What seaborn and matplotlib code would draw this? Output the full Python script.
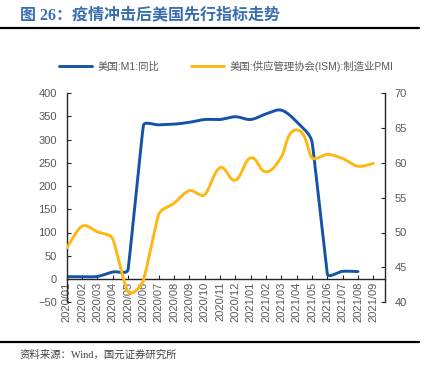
import numpy as np
import pandas as pd
import matplotlib
matplotlib.use("Agg")
import matplotlib.pyplot as plt
from matplotlib.lines import Line2D
import seaborn as sns

# ---------------- data ----------------
months = ["2020/01", "2020/02", "2020/03", "2020/04", "2020/05", "2020/06", "2020/07",
          "2020/08", "2020/09", "2020/10", "2020/11", "2020/12", "2021/01", "2021/02",
          "2021/03", "2021/04", "2021/05", "2021/06", "2021/07", "2021/08", "2021/09"]
m1_yoy = [5, 5, 5.5, 15, 20, 330, 331.5, 333, 337, 343, 343, 349, 343, 355, 363,
          338, 295, 11, 16.5, 16]
ism_pmi = [47.8, 50.9, 50.1, 49.1, 41.5, 43.1, 52.6, 54.2, 56.0, 55.4, 59.3, 57.5,
           60.7, 58.7, 60.8, 64.7, 60.7, 61.2, 60.6, 59.5, 59.9]
m1_label = "美国:M1:同比"
pmi_label = "美国:供应管理协会(ISM):制造业PMI"
left_ticks = [-50, 0, 50, 100, 150, 200, 250, 300, 350, 400]
right_ticks = [40, 45, 50, 55, 60, 65, 70]

BLUE = "#1553A8"
YELLOW = "#FDB813"
GRAY = "#595959"

sns.set_theme(style="white")
plt.rcParams['font.family'] = ['Liberation Sans', 'Noto Sans CJK SC', 'DejaVu Sans']


def smooth(ys, sx, sy, k=1/3, n=30):
    """Smoothed line (cubic Bezier through the points, tangents limited by the
    shorter neighbouring segment), computed in screen space."""
    xs = np.arange(len(ys), dtype=float)
    P = np.column_stack([xs * sx, np.asarray(ys, float) * sy])
    m = len(P)
    h_in, h_out = [], []
    for i in range(m):
        if i == 0:
            d = P[1] - P[0]
            h_in.append(np.zeros(2)); h_out.append(d / 3)
            continue
        if i == m - 1:
            d = P[i] - P[i - 1]
            h_in.append(d / 3); h_out.append(np.zeros(2))
            continue
        tvec = P[i + 1] - P[i - 1]
        tu = tvec / np.linalg.norm(tvec)
        dprev = np.linalg.norm(P[i] - P[i - 1])
        dnext = np.linalg.norm(P[i + 1] - P[i])
        L = min(dprev, dnext) * k
        h_in.append(tu * L); h_out.append(tu * L)
    u = np.linspace(0, 1, n)[:, None]
    out = []
    for i in range(m - 1):
        p1, p2 = P[i], P[i + 1]
        c1 = p1 + h_out[i]
        c2 = p2 - h_in[i + 1]
        B = ((1 - u) ** 3) * p1 + 3 * ((1 - u) ** 2) * u * c1 + 3 * (1 - u) * u ** 2 * c2 + u ** 3 * p2
        out.append(B if i == 0 else B[1:])
    B = np.vstack(out)
    return B[:, 0] / sx, B[:, 1] / sy


fig = plt.figure(figsize=(4.32, 3.70), dpi=100)
ax = fig.add_axes([66.7 / 432, 1 - 302.25 / 370, (385 - 66.7) / 432, (302.25 - 93) / 370])
ax2 = ax.twinx()

SX = 15.33
bx, by = smooth(m1_yoy, SX, 0.465)
yx, yy = smooth(ism_pmi, SX, 6.975)
df_b = pd.DataFrame({"x": bx, "y": by})
df_y = pd.DataFrame({"x": yx, "y": yy})

sns.lineplot(data=df_b, x="x", y="y", ax=ax, color=BLUE, linewidth=2.1,
             sort=False, estimator=None)
sns.lineplot(data=df_y, x="x", y="y", ax=ax2, color=YELLOW, linewidth=2.1,
             sort=False, estimator=None)

ax.set_xlim(0, 20.76)
ax.set_ylim(-50, 400)
ax2.set_ylim(40, 70)
ax.set_yticks(left_ticks)
ax2.set_yticks(right_ticks)
ax.set_xticks(range(len(months)))
ax.set_xticklabels(months)
ax.set_xlabel("")
ax.set_ylabel("")
ax2.set_ylabel("")

ax.spines['bottom'].set_position(('data', 0))
ax.spines['top'].set_visible(False)
ax.spines['right'].set_visible(False)
for s in ['top', 'bottom', 'left']:
    ax2.spines[s].set_visible(False)
for s in ['left', 'bottom']:
    ax.spines[s].set_color('#262626')
    ax.spines[s].set_linewidth(1.0)
ax2.spines['right'].set_color('#262626')
ax2.spines['right'].set_linewidth(1.0)

ax.tick_params(axis='y', direction='in', length=3, width=0.8, color='#262626',
               labelsize=8, labelcolor=GRAY, pad=7, left=True)
ax.tick_params(axis='x', direction='in', length=3, width=0.8, color='#262626',
               labelsize=8, labelcolor=GRAY, pad=2, bottom=True, labelrotation=90)
ax2.tick_params(axis='y', direction='in', length=3, width=0.8, color='#262626',
                labelsize=8, labelcolor=GRAY, pad=7, right=True)
for lbl in ax.get_xticklabels():
    lbl.set_rotation(90)
    lbl.set_va('top')
    lbl.set_ha('center')
ax.grid(False)
ax2.grid(False)
ax.set_facecolor('none')
ax2.set_facecolor('none')

handles = [Line2D([0], [0], color=BLUE, lw=2.1), Line2D([0], [0], color=YELLOW, lw=2.1)]
leg = fig.legend(handles, [m1_label, pmi_label], loc='center',
                 bbox_to_anchor=(226 / 432, 1 - 66 / 370), ncol=2, frameon=False,
                 fontsize=7.5, handlelength=3.2, columnspacing=3.0, handletextpad=0.5)
for txt in leg.get_texts():
    txt.set_color(GRAY)

fig.text(20 / 432, 1 - 15 / 370, "图 26：疫情冲击后美国先行指标走势", va='center', ha='left',
         fontsize=11.5, fontweight='bold', color='#3A6EB0',
         family=['Liberation Serif', 'Noto Sans CJK SC'])
fig.add_artist(Line2D([0, 419 / 432], [1 - 28.3 / 370] * 2, color='black', lw=1.6))
fig.add_artist(Line2D([0, 419 / 432], [1 - 341.7 / 370] * 2, color='black', lw=1.6))
fig.text(20 / 432, 1 - 355 / 370, "资料来源：Wind，国元证券研究所", va='center', ha='left',
         fontsize=7.5, color='#404040', family=['Liberation Serif', 'Noto Sans CJK SC'])

fig.savefig("out.png", dpi=100)
